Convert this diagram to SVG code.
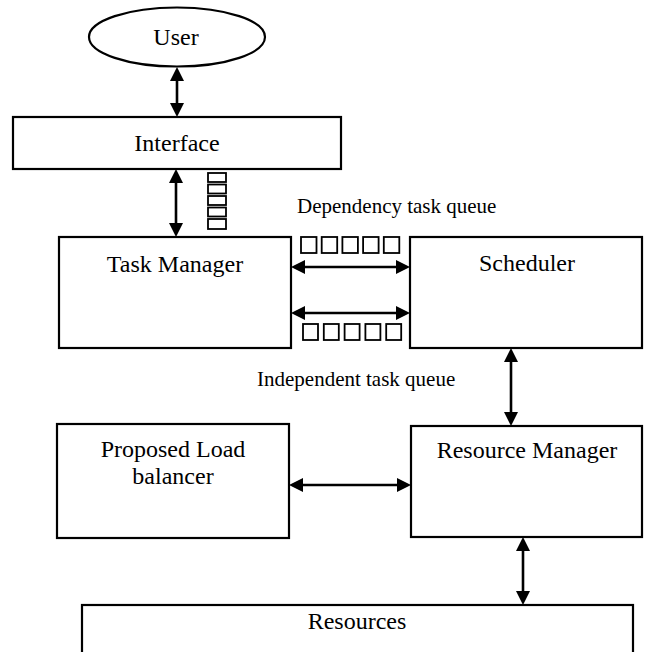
<svg xmlns="http://www.w3.org/2000/svg" width="648" height="652" viewBox="0 0 648 652">
<style>
.box{fill:#fff;stroke:#000;stroke-width:2.2}
.q{fill:#fff;stroke:#000;stroke-width:1.8}
.t{font-family:"Liberation Serif","Times New Roman",serif;font-size:24px;fill:#000;text-anchor:middle}
.l{font-family:"Liberation Serif","Times New Roman",serif;font-size:21px;fill:#000}
.c{stroke:#000;stroke-width:2.6;fill:none;marker-start:url(#ah);marker-end:url(#ah)}
</style>
<defs>
<marker id="ah" viewBox="0 0 14 14" refX="10" refY="7" markerWidth="14" markerHeight="14" markerUnits="userSpaceOnUse" orient="auto-start-reverse">
<path d="M0,0 L14,7 L0,14 z" fill="#000"/>
</marker>
</defs>
<rect width="648" height="652" fill="#fff"/>
<g id="user">
<ellipse class="box" cx="177" cy="37" rx="88" ry="29.5"/>
<text class="t" x="176" y="45">User</text>
</g>
<g id="interface">
<rect class="box" x="13" y="117" width="328" height="52"/>
<text class="t" x="177" y="151">Interface</text>
</g>
<g id="task-manager">
<rect class="box" x="59" y="237" width="232" height="111"/>
<text class="t" x="175" y="272">Task Manager</text>
</g>
<g id="scheduler">
<rect class="box" x="410" y="237" width="232" height="111"/>
<text class="t" x="527" y="271">Scheduler</text>
</g>
<g id="load-balancer">
<rect class="box" x="57" y="424" width="232" height="114"/>
<text class="t" x="173" y="457">Proposed Load</text>
<text class="t" x="173" y="484">balancer</text>
</g>
<g id="resource-manager">
<rect class="box" x="411" y="426" width="231" height="111"/>
<text class="t" x="527" y="458">Resource Manager</text>
</g>
<g id="resources">
<rect class="box" x="82" y="605" width="551" height="52"/>
<text class="t" x="357" y="629">Resources</text>
</g>
<g id="queues">
<rect class="q" x="208" y="173" width="18" height="9"/>
<rect class="q" x="208" y="184.5" width="18" height="9"/>
<rect class="q" x="208" y="196" width="18" height="9"/>
<rect class="q" x="208" y="207.5" width="18" height="9"/>
<rect class="q" x="208" y="219" width="18" height="10"/>
<rect class="q" x="301" y="237" width="15.5" height="16"/>
<rect class="q" x="321.7" y="237" width="15.5" height="16"/>
<rect class="q" x="342.4" y="237" width="15.5" height="16"/>
<rect class="q" x="363.1" y="237" width="15.5" height="16"/>
<rect class="q" x="383.8" y="237" width="15.5" height="16"/>
<rect class="q" x="303" y="324" width="15" height="16"/>
<rect class="q" x="323.8" y="324" width="15" height="16"/>
<rect class="q" x="344.6" y="324" width="15" height="16"/>
<rect class="q" x="365.4" y="324" width="15" height="16"/>
<rect class="q" x="386.2" y="324" width="15" height="16"/>
<text class="l" x="297" y="213">Dependency task queue</text>
<text class="l" x="257" y="386">Independent task queue</text>
</g>
<g id="connectors">
<line class="c" x1="177" y1="71" x2="177" y2="113"/>
<line class="c" x1="176" y1="173" x2="176" y2="233"/>
<line class="c" x1="295" y1="267" x2="406" y2="267"/>
<line class="c" x1="295" y1="313" x2="406" y2="313"/>
<line class="c" x1="511" y1="352" x2="511" y2="422"/>
<line class="c" x1="293" y1="485" x2="407" y2="485"/>
<line class="c" x1="523" y1="541" x2="523" y2="601"/>
</g>
</svg>
